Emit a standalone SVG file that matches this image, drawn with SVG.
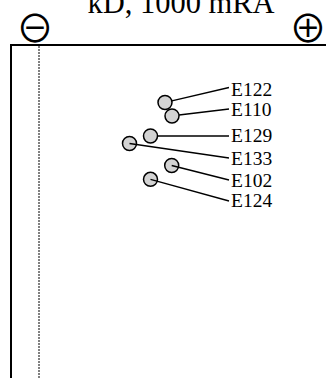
<svg xmlns="http://www.w3.org/2000/svg" width="326" height="378" viewBox="0 0 326 378">
<style>
.t{font-family:"Liberation Serif","Times New Roman",serif;fill:#000}
.lbl{font-size:19.5px}
.sym{font-family:"Noto Sans CJK JP","DejaVu Sans",sans-serif;font-size:38px;text-anchor:middle;fill:#000}
.dot{fill:#d3d3d3;stroke:#000;stroke-width:1.5}
.ln{stroke:#000;stroke-width:1.3;fill:none}
</style>
<rect width="326" height="378" fill="#fff"/>
<text class="t" x="181" y="12.5" font-size="30.5" text-anchor="middle">kD, 1000 mRA</text>
<text class="sym" x="35" y="42">⊖</text>
<text class="sym" x="308" y="42">⊕</text>
<path d="M11,378 V45 H326" fill="none" stroke="#000" stroke-width="2"/>
<line x1="39" y1="46" x2="39" y2="378" stroke="#000" stroke-width="1" stroke-dasharray="2,1"/>
<g id="E122"><circle class="dot" cx="165" cy="102.5" r="7"/><text class="t lbl" x="231" y="95.5">E122</text></g>
<g id="E110"><circle class="dot" cx="172" cy="116" r="7"/><text class="t lbl" x="231" y="116">E110</text></g>
<g id="E129"><circle class="dot" cx="150.5" cy="136" r="7"/><text class="t lbl" x="231" y="142">E129</text></g>
<g id="E133"><circle class="dot" cx="129.5" cy="143.5" r="7"/><text class="t lbl" x="231" y="165">E133</text></g>
<g id="E102"><circle class="dot" cx="171.7" cy="165.5" r="7"/><text class="t lbl" x="231" y="187">E102</text></g>
<g id="E124"><circle class="dot" cx="150.5" cy="179.3" r="7"/><text class="t lbl" x="231" y="207">E124</text></g>
<g id="connectors">
<line class="ln" x1="171.8" y1="100.8" x2="229" y2="87.5"/>
<line class="ln" x1="179" y1="115" x2="229" y2="109"/>
<line class="ln" x1="157.5" y1="136" x2="229" y2="136"/>
<line class="ln" x1="129.5" y1="143.5" x2="229" y2="158"/>
<line class="ln" x1="171.7" y1="165.5" x2="229" y2="180"/>
<line class="ln" x1="150.5" y1="179.3" x2="229" y2="201"/>
</g>
</svg>
